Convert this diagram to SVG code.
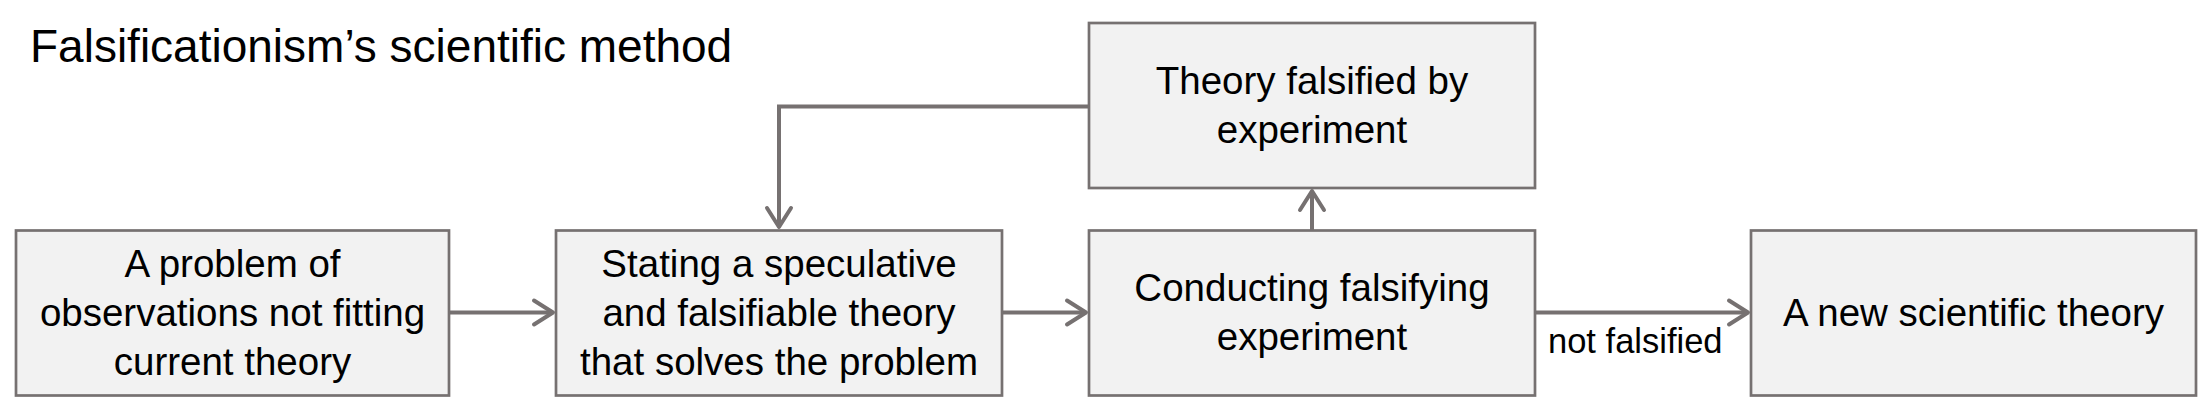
<svg xmlns="http://www.w3.org/2000/svg" width="2198" height="413" viewBox="0 0 2198 413">
  <style>
    .box { fill: #F2F2F2; stroke: #767171; stroke-width: 2.7; }
    .lbl { font-family: "Liberation Sans", Arial, sans-serif; font-size: 38.5px; fill: #000; text-anchor: middle; }
    .title { font-family: "Liberation Sans", Arial, sans-serif; font-size: 46px; fill: #000; }
    .edge { fill: none; stroke: #767171; stroke-width: 4; marker-end: url(#arr); }
    .elbl { font-family: "Liberation Sans", Arial, sans-serif; font-size: 34.5px; fill: #000; }
  </style>
  <defs>
    <marker id="arr" markerUnits="userSpaceOnUse" viewBox="-24 -16 28 32" refX="0" refY="0" markerWidth="28" markerHeight="32" orient="auto" overflow="visible">
      <path d="M-19,-12 L0,0 L-19,12" fill="none" stroke="#767171" stroke-width="4" stroke-linecap="round" stroke-linejoin="round"/>
    </marker>
  </defs>
  <rect width="2198" height="413" fill="#FFFFFF"/>
  <text class="title" x="30" y="62">Falsificationism’s scientific method</text>

  <g id="connectors">
    <line class="edge" x1="449" y1="312.5" x2="553" y2="312.5"/>
    <line class="edge" x1="1002" y1="312.5" x2="1086" y2="312.5"/>
    <line class="edge" x1="1535" y1="312.5" x2="1748" y2="312.5"/>
    <line class="edge" x1="1312" y1="230" x2="1312" y2="191"/>
    <polyline class="edge" points="1089,106.5 779,106.5 779,227"/>
    <text class="elbl" x="1548" y="353">not falsified</text>
  </g>

  <g id="node-problem">
    <rect class="box" x="16" y="230.5" width="433" height="165"/>
    <text class="lbl" x="232.5" y="277">A problem of</text>
    <text class="lbl" x="232.5" y="326">observations not fitting</text>
    <text class="lbl" x="232.5" y="375">current theory</text>
  </g>

  <g id="node-theory">
    <rect class="box" x="556" y="230.5" width="446" height="165"/>
    <text class="lbl" x="779" y="277">Stating a speculative</text>
    <text class="lbl" x="779" y="326">and falsifiable theory</text>
    <text class="lbl" x="779" y="375">that solves the problem</text>
  </g>

  <g id="node-falsified">
    <rect class="box" x="1089" y="23" width="446" height="165"/>
    <text class="lbl" x="1312" y="94">Theory falsified by</text>
    <text class="lbl" x="1312" y="143">experiment</text>
  </g>

  <g id="node-experiment">
    <rect class="box" x="1089" y="230.5" width="446" height="165"/>
    <text class="lbl" x="1312" y="301">Conducting falsifying</text>
    <text class="lbl" x="1312" y="350">experiment</text>
  </g>

  <g id="node-new-theory">
    <rect class="box" x="1751" y="230.5" width="445" height="165"/>
    <text class="lbl" x="1973.5" y="326">A new scientific theory</text>
  </g>
</svg>
